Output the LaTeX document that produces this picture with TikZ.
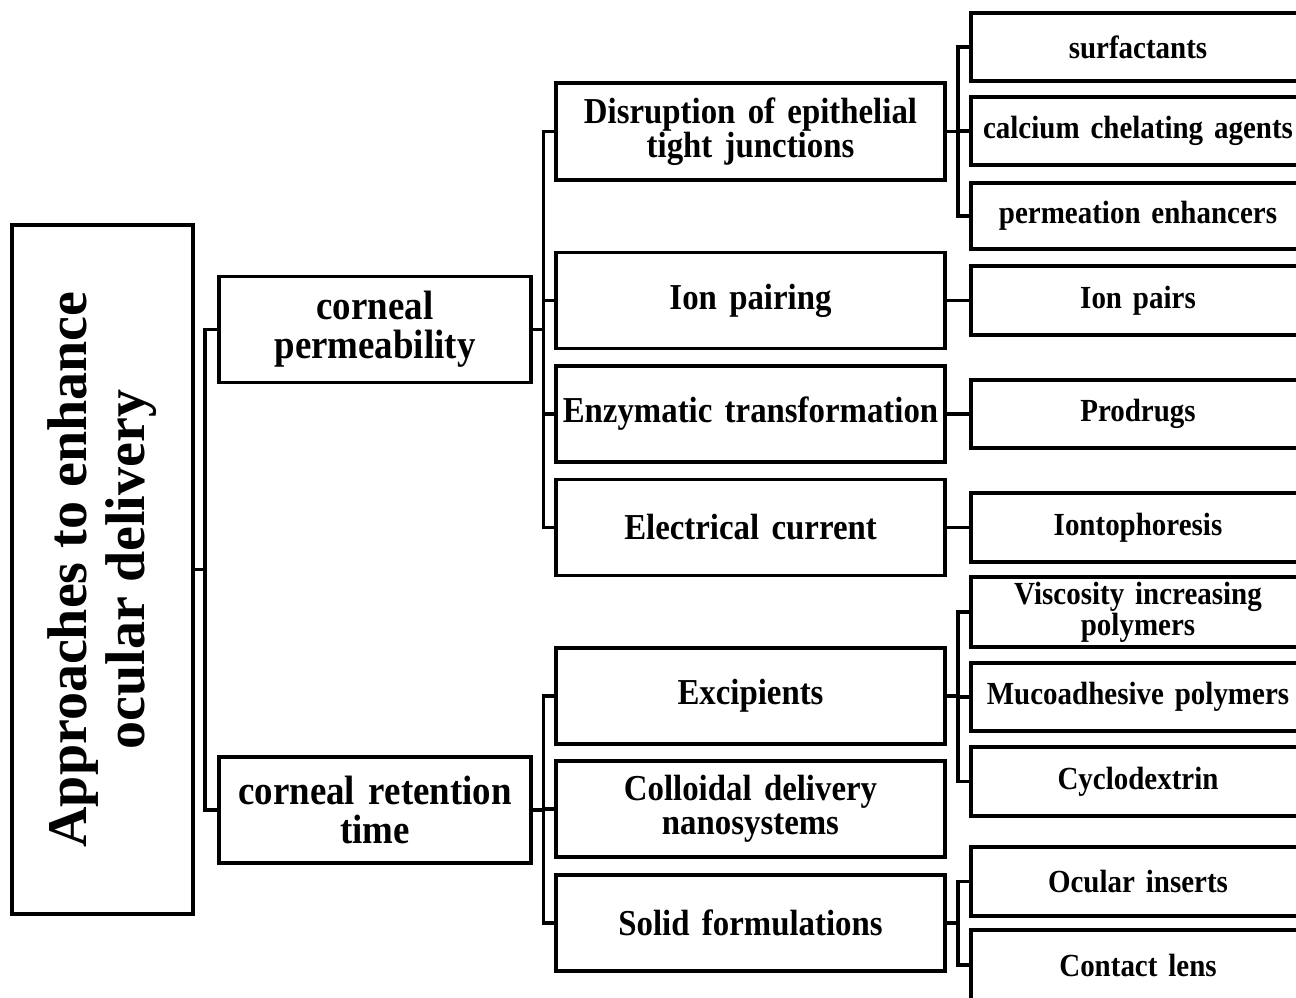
\documentclass[tikz,border=0pt]{standalone}
\usepackage{fontspec}
\setmainfont{Liberation Serif}
\newfontfamily\narrowfont[FakeStretch=0.9]{Liberation Serif}
\newfontfamily\lfourfont[FakeStretch=0.9,WordSpace=1.5]{Liberation Serif}
\begin{document}
\begin{tikzpicture}[x=1pt,y=-1pt,line width=3.2pt,
  box/.style={draw,inner sep=0pt,outer sep=0pt,align=center},
  lone/.style={box,minimum width=181pt,minimum height=689pt},
  ltwo/.style={box,minimum width=312pt,minimum height=106pt,font=\narrowfont\fontsize{41}{39}\selectfont\bfseries},
  lthree/.style={box,minimum width=389pt,minimum height=96pt,font=\narrowfont\fontsize{36.5}{34.5}\selectfont\bfseries},
  lfour/.style={box,minimum width=334pt,minimum height=68pt,font=\lfourfont\fontsize{32.2}{31}\selectfont\bfseries},
  conn/.style={draw,line width=3.6pt}]
\useasboundingbox (0,0) rectangle (1296,997);
\fill[white] (0,0) rectangle (1296,997);
% level 1
\node[lone] (root) at (102.5,569.5) {};
\node[rotate=90,align=center,inner sep=0pt,font=\fontsize{56}{58}\selectfont\bfseries] (roottext) at (root.center) {Approaches to enhance\\ocular delivery};
% level 2
\node[ltwo] (cp) at (375,329.5) {corneal\\permeability};
\node[ltwo] (crt) at (375,810) {corneal retention\\time};
% level 3
\node[lthree,minimum height=97pt] (dis) at (750.5,131.5) {Disruption of epithelial\\tight junctions};
\node[lthree] (ip) at (750.5,300.5) {Ion pairing};
\node[lthree] (et) at (750.5,414) {Enzymatic transformation};
\node[lthree] (ec) at (750.5,527.5) {Electrical current};
\node[lthree] (ex) at (750.5,696) {Excipients};
\node[lthree] (co) at (750.5,809) {Colloidal delivery\\nanosystems};
\node[lthree] (sf) at (750.5,923) {Solid formulations};
% level 4
\node[lfour] (surf) at (1138,47) {surfactants};
\node[lfour] (calc) at (1138,131) {calcium chelating agents};
\node[lfour,minimum height=66pt] (perm) at (1138,216) {permeation enhancers};
\node[lfour,minimum height=69pt] (ionp) at (1138,300.5) {Ion pairs};
\node[lfour] (prod) at (1138,414) {Prodrugs};
\node[lfour,minimum height=69pt] (iont) at (1138,527.5) {Iontophoresis};
\node[lfour,minimum height=70pt] (visc) at (1138,612) {Viscosity increasing\\polymers};
\node[lfour] (muco) at (1138,697) {Mucoadhesive polymers};
\node[lfour,minimum height=69pt] (cyc) at (1138,781.5) {Cyclodextrin};
\node[lfour,minimum height=69pt] (ocu) at (1138,881.5) {Ocular inserts};
\node[lfour,minimum height=70pt] (cont) at (1138,965) {Contact lens};
% bus coordinates
\coordinate (b1) at (205,0);
\coordinate (b2) at (543.5,0);
\coordinate (b3) at (958,0);
% connectors level 1 -> 2
\draw[conn] (root.east) -- (root.east -| b1);
\draw[conn] (cp.west) -- (cp.west -| b1) -- (crt.west -| b1) -- (crt.west);
% level 2 -> 3
\draw[conn] (cp.east) -- (cp.east -| b2);
\draw[conn] (dis.west) -- (dis.west -| b2) -- (ec.west -| b2) -- (ec.west);
\draw[conn] (ip.west) -- (ip.west -| b2);
\draw[conn] (et.west) -- (et.west -| b2);
\draw[conn] (crt.east) -- (crt.east -| b2);
\draw[conn] (ex.west) -- (ex.west -| b2) -- (sf.west -| b2) -- (sf.west);
\draw[conn] (co.west) -- (co.west -| b2);
% level 3 -> 4
\draw[conn] (dis.east) -- (dis.east -| b3);
\draw[conn] (surf.west) -- (surf.west -| b3) -- (perm.west -| b3) -- (perm.west);
\draw[conn] (calc.west) -- (calc.west -| b3);
\draw[conn] (ip.east) -- (ip.east -| ionp.west);
\draw[conn] (et.east) -- (et.east -| prod.west);
\draw[conn] (ec.east) -- (ec.east -| iont.west);
\draw[conn] (ex.east) -- (ex.east -| b3);
\draw[conn] (visc.west) -- (visc.west -| b3) -- (cyc.west -| b3) -- (cyc.west);
\draw[conn] (muco.west) -- (muco.west -| b3);
\draw[conn] (sf.east) -- (sf.east -| b3);
\draw[conn] (ocu.west) -- (ocu.west -| b3) -- (cont.west -| b3) -- (cont.west);
\end{tikzpicture}
\end{document}
